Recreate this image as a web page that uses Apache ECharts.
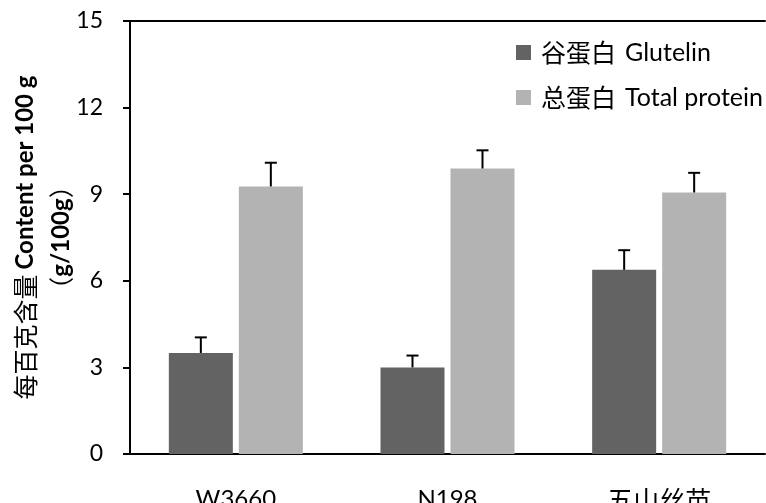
<!DOCTYPE html>
<html>
<head>
<meta charset="utf-8">
<script src="https://cdn.jsdelivr.net/npm/echarts@6/dist/echarts.min.js"></script>
<style>
  html, body { margin: 0; padding: 0; background: #fff; }
  #chart { width: 766px; height: 503px; }
</style>
</head>
<body>
<div id="chart"></div>
<script>
// Rice varieties on the category axis
const categories = ['W3660', 'N198', '五山丝苗'];

// Mean content (g/100g) and upper error (mean + SD)
const glutelin = [3.50, 3.00, 6.38];
const glutelinErrTop = [4.04, 3.41, 7.06];
const totalProtein = [9.27, 9.89, 9.06];
const totalProteinErrTop = [10.09, 10.52, 9.74];

// Y axis range and step
const yMin = 0;
const yMax = 15;
const yStep = 3;

const seriesNames = ['谷蛋白 Glutelin', '总蛋白 Total protein'];

const BAR_W = 64;
const BAR_GAP = 6;
const latin = 'Lato, "Noto Sans", sans-serif';
const cjk = '"Noto Sans CJK SC", sans-serif';
const hasCjk = s => /[\u4e00-\u9fff]/.test(s);

function errorBars(errTop, means, offsetSign) {
  return {
    type: 'custom',
    silent: true,
    z: 5,
    data: errTop.map((v, i) => [i, v, means[i]]),
    renderItem: function (params, api) {
      const i = api.value(0);
      const top = api.coord([i, api.value(1)]);
      const bottom = api.coord([i, api.value(2)]);
      const x = top[0] + offsetSign * (BAR_W + BAR_GAP) / 2;
      const style = { stroke: '#000', lineWidth: 2 };
      return {
        type: 'group',
        children: [
          { type: 'line', shape: { x1: x, y1: bottom[1], x2: x, y2: top[1] }, style: style },
          { type: 'line', shape: { x1: x - 6, y1: top[1], x2: x + 6, y2: top[1] }, style: style }
        ]
      };
    }
  };
}

const chart = echarts.init(document.getElementById('chart'), null, { renderer: 'canvas' });
chart.setOption({
  animation: false,
  backgroundColor: '#fff',
  grid: { left: 130, right: 1, top: 21, bottom: 49, containLabel: false, outerBoundsMode: 'none' },
  legend: {
    orient: 'vertical',
    left: 511,
    top: 35,
    itemWidth: 15,
    itemHeight: 15,
    itemGap: 20,
    icon: 'rect',
    data: seriesNames,
    formatter: function (name) {
      const parts = name.split(' ');
      return '{cn|' + parts[0] + '}{en|' + parts.slice(1).join(' ') + '}';
    },
    textStyle: {
      padding: [0, 0, 0, 5],
      rich: {
        cn: { fontFamily: cjk, fontSize: 25, color: '#000' },
        en: { fontFamily: latin, fontSize: 25, color: '#000', padding: [0, 0, 0, 9] }
      }
    }
  },
  xAxis: [
    {
      type: 'category',
      data: categories,
      axisLine: { lineStyle: { color: '#000', width: 2 } },
      axisTick: { show: false },
      axisLabel: {
        margin: 33,
        formatter: v => hasCjk(v) ? '{cn|' + v + '}' : '{en|' + v + '}',
        rich: {
          cn: { fontFamily: cjk, fontSize: 26, color: '#000' },
          en: { fontFamily: latin, fontSize: 24, color: '#000' }
        }
      }
    },
    {
      type: 'category',
      data: categories,
      position: 'top',
      axisLine: { lineStyle: { color: '#000', width: 2 } },
      axisTick: { show: false },
      axisLabel: { show: false }
    }
  ],
  yAxis: {
    type: 'value',
    min: yMin,
    max: yMax,
    interval: yStep,
    splitLine: { show: false },
    axisLine: { show: true, lineStyle: { color: '#000', width: 2 } },
    axisTick: { show: true, length: 7, lineStyle: { color: '#000', width: 2 } },
    axisLabel: { margin: 27, fontSize: 23, color: '#000', fontFamily: latin },
    name: '{cn|每百克含量}{en|Content per 100 g}\n{cn|（}{en2|g/100g}{cn|）}',
    nameLocation: 'middle',
    nameRotate: 90,
    nameGap: 51,
    nameMoveOverlap: false,
    nameTextStyle: {
      color: '#000',
      lineHeight: 36,
      rich: {
        cn: { fontFamily: cjk, fontSize: 25, color: '#000', lineHeight: 36 },
        en: { fontFamily: latin, fontSize: 24, fontWeight: 'bold', color: '#000', lineHeight: 36, padding: [0, 0, 0, 5] },
        en2: { fontFamily: latin, fontSize: 24, fontWeight: 'bold', color: '#000', lineHeight: 36 }
      }
    }
  },
  series: [
    {
      name: seriesNames[0],
      type: 'bar',
      data: glutelin,
      barWidth: BAR_W,
      barGap: (BAR_GAP / BAR_W * 100) + '%',
      itemStyle: { color: '#636363' }
    },
    {
      name: seriesNames[1],
      type: 'bar',
      data: totalProtein,
      barWidth: BAR_W,
      itemStyle: { color: '#b3b3b3' }
    },
    errorBars(glutelinErrTop, glutelin, -1),
    errorBars(totalProteinErrTop, totalProtein, 1)
  ]
});
</script>
</body>
</html>
